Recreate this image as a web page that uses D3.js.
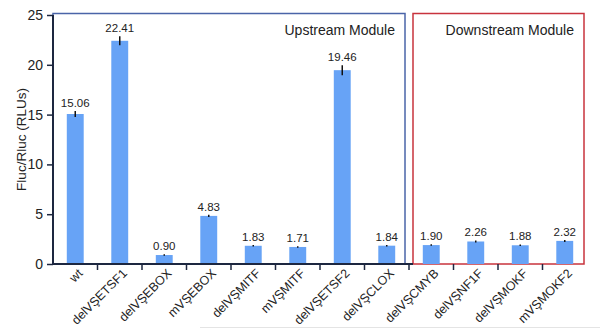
<!DOCTYPE html>
<html>
<head>
<meta charset="utf-8">
<script src="https://cdn.jsdelivr.net/npm/d3@7"></script>
<style>
  body { margin: 0; background: #fff; }
  text { font-family: "Liberation Sans", Arial, sans-serif; }
</style>
</head>
<body>
<script>
// Data
var constructs = ["wt", "delVŞETSF1", "delVŞEBOX", "mVŞEBOX", "delVŞMITF", "mVŞMITF",
                  "delVŞETSF2", "delVŞCLOX", "delVŞCMYB", "delVŞNF1F", "delVŞMOKF", "mVŞMOKF2"];
var values = [15.06, 22.41, 0.90, 4.83, 1.83, 1.71, 19.46, 1.84, 1.90, 2.26, 1.88, 2.32];
var errors = [0.3, 0.45, 0.08, 0.12, 0.08, 0.08, 0.5, 0.08, 0.08, 0.1, 0.08, 0.1];
var yTicks = [0, 5, 10, 15, 20, 25];
var modules = [
  {name: "Upstream Module", first: "wt", last: "delVŞCLOX", color: "#4a64a8"},
  {name: "Downstream Module", first: "delVŞCMYB", last: "mVŞMOKF2", color: "#c8333d"}
];

var W = 600, H = 329;
var margin = {top: 15, right: 13, bottom: 65, left: 53},
    width = W - margin.left - margin.right,
    height = H - margin.top - margin.bottom;

var svg0 = d3.select("body")
  .append("svg")
    .attr("width", W)
    .attr("height", H);

// faint border line from the screenshot
svg0.append("line")
  .attr("x1", 200).attr("x2", W)
  .attr("y1", 327.5).attr("y2", 327.5)
  .attr("stroke", "#e4e4e4").attr("stroke-width", 1);

var svg = svg0.append("g")
    .attr("transform", "translate(" + margin.left + "," + margin.top + ")");

var x = d3.scaleBand()
  .domain(constructs)
  .range([0, width])
  .paddingInner(0.62)
  .paddingOuter(0.31);

var y = d3.scaleLinear()
  .domain([0, 25])
  .range([height, 0]);

var axisColor = "#1d2740";
var gap = x.step() * 0.31;

// Module boxes
modules.forEach(function(m, i) {
  var x0 = i === 0 ? 0 : x(m.first) - gap + 4;
  var x1 = x(m.last) + x.bandwidth() + gap - (i === 0 ? 4 : 3);
  svg.append("rect")
    .attr("x", x0)
    .attr("y", y(25) - 1.5)
    .attr("width", x1 - x0)
    .attr("height", height - y(25) + 1.5)
    .attr("fill", "none")
    .attr("stroke", m.color)
    .attr("stroke-width", 1.5);
  svg.append("text")
    .attr("x", x1 - 10)
    .attr("y", 20)
    .attr("text-anchor", "end")
    .style("font-size", "14px")
    .attr("fill", "#222")
    .text(m.name);
});

// Bars
svg.append("g")
  .selectAll("rect")
  .data(constructs)
  .enter()
  .append("rect")
    .attr("x", function(d) { return x(d); })
    .attr("y", function(d, i) { return y(values[i]); })
    .attr("width", x.bandwidth())
    .attr("height", function(d, i) { return height - y(values[i]); })
    .attr("fill", "#67a3f6");

// Error bars
svg.append("g")
  .selectAll("line")
  .data(constructs)
  .enter()
  .append("line")
    .attr("x1", function(d) { return x(d) + x.bandwidth() / 2; })
    .attr("x2", function(d) { return x(d) + x.bandwidth() / 2; })
    .attr("y1", function(d, i) { return y(values[i] - errors[i]); })
    .attr("y2", function(d, i) { return y(values[i] + errors[i]); })
    .attr("stroke", "#111")
    .attr("stroke-width", 1.5);

// Value labels
svg.append("g")
  .selectAll("text")
  .data(constructs)
  .enter()
  .append("text")
    .attr("x", function(d) { return x(d) + x.bandwidth() / 2; })
    .attr("y", function(d, i) { return y(values[i] + errors[i]) - 4; })
    .attr("text-anchor", "middle")
    .style("font-size", "11.5px")
    .attr("fill", "#222")
    .text(function(d, i) { return values[i].toFixed(2); });

// X axis (bottom line + ticks between bars)
var xAxis = svg.append("g")
  .attr("transform", "translate(0," + height + ")");
xAxis.append("line")
  .attr("x1", 0).attr("x2", x(modules[1].first) - gap + 4)
  .attr("stroke", axisColor).attr("stroke-width", 2);
xAxis.selectAll(".tk")
  .data(constructs.slice(1))
  .enter()
  .append("line")
    .attr("x1", function(d) { return x(d) - gap; })
    .attr("x2", function(d) { return x(d) - gap; })
    .attr("y1", 0).attr("y2", 6)
    .attr("stroke", axisColor).attr("stroke-width", 1.5);
xAxis.selectAll(".lbl")
  .data(constructs)
  .enter()
  .append("text")
    .attr("text-anchor", "end")
    .attr("transform", function(d) {
      return "translate(" + (x(d) + x.bandwidth() / 2 + 5) + ",7) rotate(-45)";
    })
    .attr("dy", "0.35em")
    .style("font-size", "12.5px")
    .attr("fill", "#222")
    .text(function(d) { return d; });

// Y axis
var yAxis = svg.append("g")
  .call(d3.axisLeft(y).tickValues(yTicks).tickSize(6).tickPadding(4));
yAxis.select(".domain").attr("stroke", axisColor).attr("stroke-width", 2)
  .attr("d", "M0," + y(25) + "V" + height);
yAxis.selectAll(".tick line").attr("stroke", axisColor).attr("stroke-width", 1.5);
yAxis.selectAll(".tick text")
  .style("font-size", "14px")
  .style("font-family", "Liberation Sans, Arial, sans-serif")
  .attr("fill", "#222");

// Y axis label
svg.append("text")
  .attr("text-anchor", "middle")
  .attr("transform", "rotate(-90)")
  .attr("y", -margin.left + 26)
  .attr("x", -height / 2)
  .style("font-size", "13.5px")
  .attr("fill", "#222")
  .text("Fluc/Rluc (RLUs)");
</script>
</body>
</html>
